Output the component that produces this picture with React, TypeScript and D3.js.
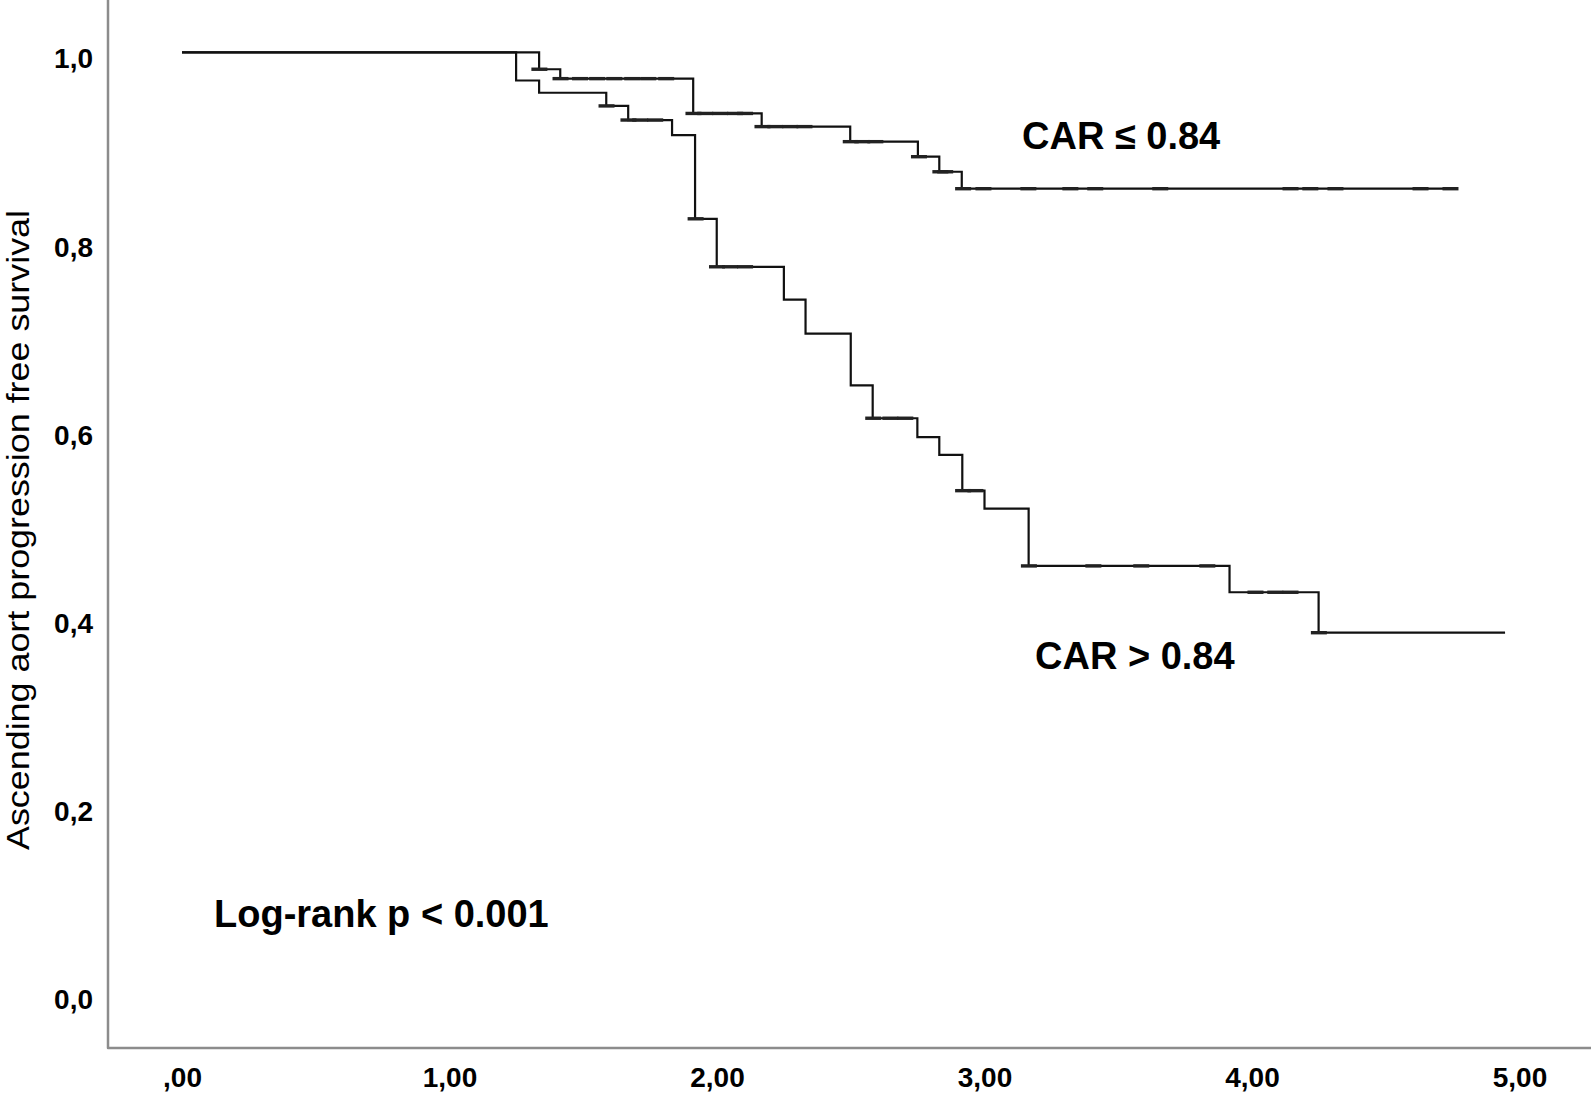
import React, { useEffect, useRef } from "react";
import * as d3 from "d3";

const width = 1594;
const height = 1096;

// CAR <= 0.84 : event times (years) and survival after each event
const lowCarTimes = [1.335, 1.414, 1.911, 2.167, 2.498, 2.751, 2.831, 2.915];
const lowCarSurvival = [0.982, 0.972, 0.935, 0.921, 0.905, 0.889, 0.873, 0.855];
const lowCarLastFollowUp = 4.77;
const lowCarCensored = [
  1.336, 1.415, 1.488, 1.552, 1.616, 1.683, 1.743, 1.81, 1.912, 1.956, 2.012,
  2.068, 2.105, 2.17, 2.218, 2.274, 2.327, 2.5, 2.543, 2.592, 2.755, 2.835,
  2.853, 2.92, 2.996, 3.164, 3.321, 3.414, 3.657, 4.144, 4.218, 4.312, 4.63,
  4.742,
];

// CAR > 0.84
const highCarTimes = [
  1.249, 1.335, 1.586, 1.668, 1.832, 1.918, 1.999, 2.25, 2.331, 2.5, 2.582,
  2.749, 2.831, 2.917, 3.0, 3.165, 3.916, 4.249,
];
const highCarSurvival = [
  0.97, 0.957, 0.943, 0.928, 0.912, 0.823, 0.772, 0.737, 0.701, 0.646, 0.611,
  0.591, 0.572, 0.534, 0.515, 0.454, 0.426, 0.383,
];
const highCarLastFollowUp = 4.946;
const highCarCensored = [
  1.587, 1.669, 1.713, 1.769, 1.92, 2.0, 2.049, 2.105, 2.584, 2.648, 2.704,
  2.92, 2.966, 3.166, 3.407, 3.586, 3.833, 4.013, 4.087, 4.144, 4.25,
];

const xTickValues = [0, 1, 2, 3, 4, 5];
const xTickLabels = [",00", "1,00", "2,00", "3,00", "4,00", "5,00"];
const yTickValues = [0, 0.2, 0.4, 0.6, 0.8, 1];
const yTickLabels = ["0,0", "0,2", "0,4", "0,6", "0,8", "1,0"];

const SurvivalChart = () => {
  const ref = useRef<SVGSVGElement>(null);

  useEffect(() => {
    const svg = d3.select(ref.current);
    svg.selectAll("*").remove();

    const x = d3.scaleLinear().domain([0, 5]).range([182, 1519.5]);
    const y = d3.scaleLinear().domain([0, 1]).range([993, 52.3]);
    const axisLeft = 108;
    const axisBottom = 1048;
    const font = "'Liberation Sans', Arial, sans-serif";

    svg.append("rect").attr("width", width).attr("height", height).attr("fill", "#fff");

    // axis lines
    svg
      .append("path")
      .attr("d", `M${axisLeft},0 V${axisBottom} H1591`)
      .attr("fill", "none")
      .attr("stroke", "#8c8c8c")
      .attr("stroke-width", 2.5)
      .attr("stroke-linejoin", "round");

    const xAxis = svg
      .append("g")
      .attr("transform", `translate(0,${axisBottom})`)
      .call(
        d3
          .axisBottom(x)
          .tickValues(xTickValues)
          .tickFormat((d, i) => xTickLabels[i])
          .tickSize(0)
          .tickPadding(19)
      );
    const yAxis = svg
      .append("g")
      .attr("transform", `translate(${axisLeft},0)`)
      .call(
        d3
          .axisLeft(y)
          .tickValues(yTickValues)
          .tickFormat((d, i) => yTickLabels[i])
          .tickSize(0)
          .tickPadding(15)
      );
    [xAxis, yAxis].forEach((g) => {
      g.select(".domain").remove();
      g.selectAll("text")
        .attr("font-family", font)
        .attr("font-weight", "bold")
        .attr("font-size", 28)
        .attr("fill", "#000");
    });
    yAxis.selectAll("text").attr("dy", "0.56em");

    const groups = [
      { times: lowCarTimes, surv: lowCarSurvival, end: lowCarLastFollowUp, cens: lowCarCensored },
      { times: highCarTimes, surv: highCarSurvival, end: highCarLastFollowUp, cens: highCarCensored },
    ];

    const line = d3
      .line<[number, number]>()
      .x((d) => x(d[0]))
      .y((d) => y(d[1]))
      .curve(d3.curveStepAfter);

    groups.forEach((g) => {
      const pts: [number, number][] = [[0, 1]];
      g.times.forEach((t, i) => pts.push([t, g.surv[i]]));
      pts.push([g.end, g.surv[g.surv.length - 1]]);

      svg
        .append("path")
        .attr("d", line(pts))
        .attr("fill", "none")
        .attr("stroke", "#111")
        .attr("stroke-width", 2.2);

      const survAt = (t: number) => {
        const i = d3.bisectRight(g.times, t);
        return i === 0 ? 1 : g.surv[i - 1];
      };

      svg
        .append("g")
        .selectAll("line")
        .data(g.cens)
        .enter()
        .append("line")
        .attr("x1", (t) => x(t) - 8)
        .attr("x2", (t) => x(t) + 8)
        .attr("y1", (t) => y(survAt(t)))
        .attr("y2", (t) => y(survAt(t)))
        .attr("stroke", "#222")
        .attr("stroke-width", 3.4);
    });

    const label = (txt: string, lx: number, ly: number) =>
      svg
        .append("text")
        .attr("x", lx)
        .attr("y", ly)
        .attr("font-family", font)
        .attr("font-weight", "bold")
        .attr("font-size", 38)
        .attr("fill", "#000")
        .text(txt);

    label("CAR \u2264 0.84", 1022, 149);
    label("CAR > 0.84", 1035, 669);
    label("Log-rank p < 0.001", 214, 927);

    svg
      .append("text")
      .attr("transform", "translate(18,530) rotate(-90)")
      .attr("text-anchor", "middle")
      .attr("dominant-baseline", "central")
      .attr("font-family", font)
      .attr("font-size", 31)
      .attr("textLength", 640)
      .attr("lengthAdjust", "spacingAndGlyphs")
      .attr("fill", "#000")
      .text("Ascending aort progression free survival");
  }, []);

  return (
    <svg
      ref={ref}
      width={width}
      height={height}
      style={{ position: "absolute", left: 0, top: 0 }}
    />
  );
};

export default function App() {
  return <SurvivalChart />;
}
